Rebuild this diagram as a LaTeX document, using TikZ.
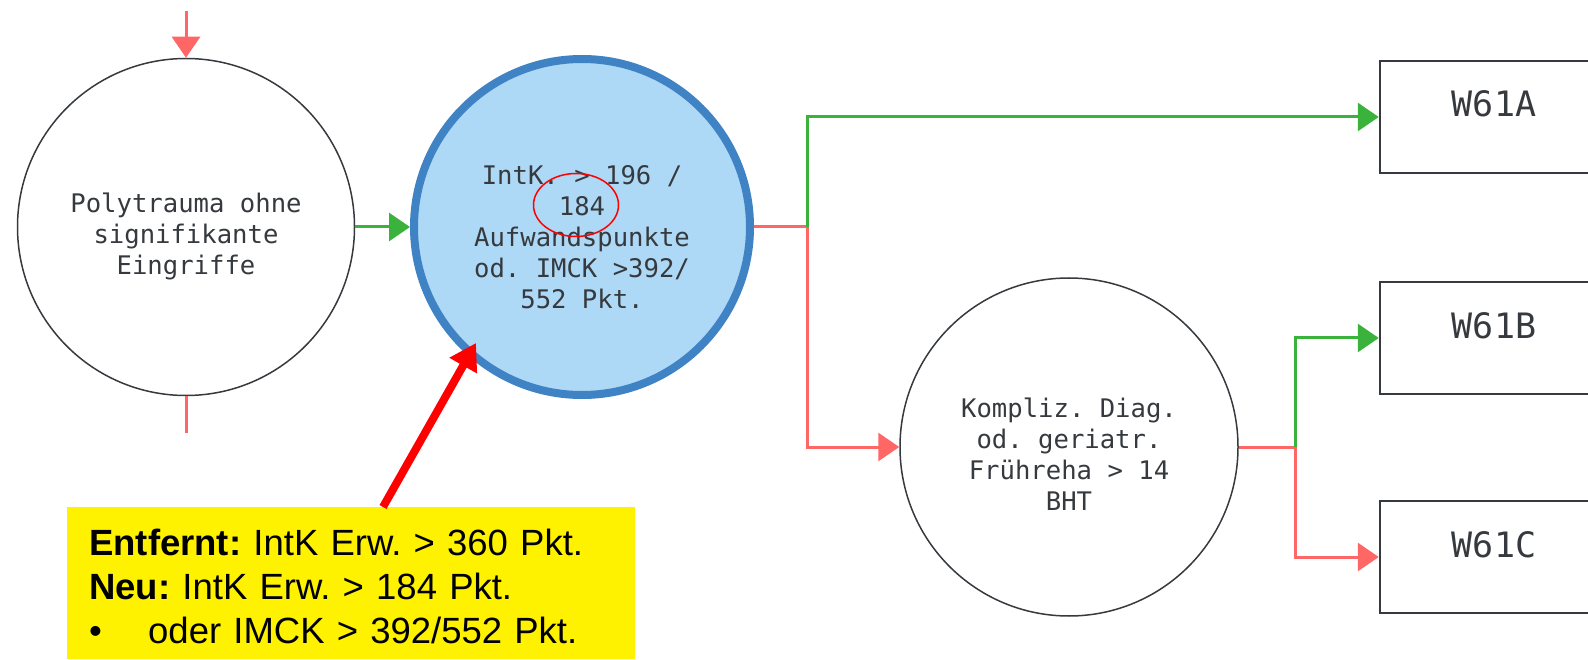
\documentclass[tikz,border=0pt]{standalone}
\usepackage{fontspec}
\setmainfont{Liberation Sans}
\newfontfamily\flowfont{DejaVu Sans Mono}
\usepackage{tikz}
\usetikzlibrary{positioning,arrows.meta}
\definecolor{yesgreen}{RGB}{59,178,59}
\definecolor{nored}{RGB}{255,102,102}
\definecolor{frame}{RGB}{54,58,62}
\definecolor{hlfill}{RGB}{173,216,246}
\definecolor{hlline}{RGB}{64,131,196}
\frenchspacing
\newcommand{\lift}[1]{\rule{0pt}{#1}}

\begin{document}
\begin{tikzpicture}[x=1pt, y=-1pt,
  cond/.style={circle, draw=frame, line width=1.5pt, minimum size=337pt, inner sep=0pt,
    align=center, text=frame, font=\flowfont\fontsize{25.6}{31}\selectfont},
  drg/.style={rectangle, draw=frame, line width=2.5pt, minimum width=228pt, minimum height=112pt,
    text height=20pt, text depth=20pt, inner sep=0pt, text=frame, font=\flowfont\fontsize{35}{40}\selectfont},
  yesarr/.style={draw=yesgreen, line width=3pt, -{Triangle[length=21pt,width=28pt]}},
  noarr/.style={draw=nored, line width=3pt, -{Triangle[length=21pt,width=28pt]}},
  noline/.style={draw=nored, line width=3pt}]
\useasboundingbox (0,0) rectangle (1588,660);

\node[cond] (poly) at (186,227) {\lift{39pt}Polytrauma ohne\\signifikante\\Eingriffe};
\node[cond, fill=hlfill, draw=hlline, line width=8pt, minimum size=336pt] (intk) at (582,227)
  {\lift{39pt}IntK. > 196 /\\184\\Aufwandspunkte\\od. IMCK >392/\\552 Pkt.};
\node[cond, minimum size=338pt] (kompl) at (1069,447)
  {\lift{33pt}Kompliz. Diag.\\od. geriatr.\\Frühreha > 14\\BHT};
\node[drg] (w61a) at (1494,117) {W61A};
\node[drg] (w61b) at (1494,338) {W61B};
\node[drg] (w61c) at (1494,557) {W61C};
\node[anchor=north west, fill=yellow, minimum width=568pt, minimum height=152pt,
  text width=524pt, inner xsep=22pt, align=left, font=\fontsize{36.5}{44}\selectfont] (note) at (67,507)
  {\lift{33pt}\textbf{Entfernt:} IntK Erw. > 360 Pkt.\\\textbf{Neu:} IntK Erw. > 184 Pkt.\\\makebox[59pt][l]{•}oder IMCK > 392/552 Pkt.};

\coordinate (in) at (186,11);
\coordinate (out) at (186,433);
\coordinate (split1) at (807,227);
\coordinate (split2) at (1295,447);
\coordinate (tail) at (383,507);
\coordinate (tip) at (476,343);

\draw[noarr] (in) -- (poly.north);
\draw[noline] (poly.south) -- (out);
\draw[yesarr] (poly.east) -- (intk.west);
\draw[noline] (intk.east) -- (split1);
\draw[noarr] (split1) |- (kompl.west);
\draw[yesarr] (split1) |- (w61a.west);
\draw[noline] (kompl.east) -- (split2);
\draw[noarr] (split2) |- (w61c.west);
\draw[yesarr] (split2) |- (w61b.west);

% Markierung
\draw[red, line width=1.5pt] (576,205) ellipse [x radius=42.5, y radius=31.5];
\draw[red, line width=8pt, -{Triangle[length=26pt,width=30pt]}] (tail) -- (tip);
\end{tikzpicture}
\end{document}
